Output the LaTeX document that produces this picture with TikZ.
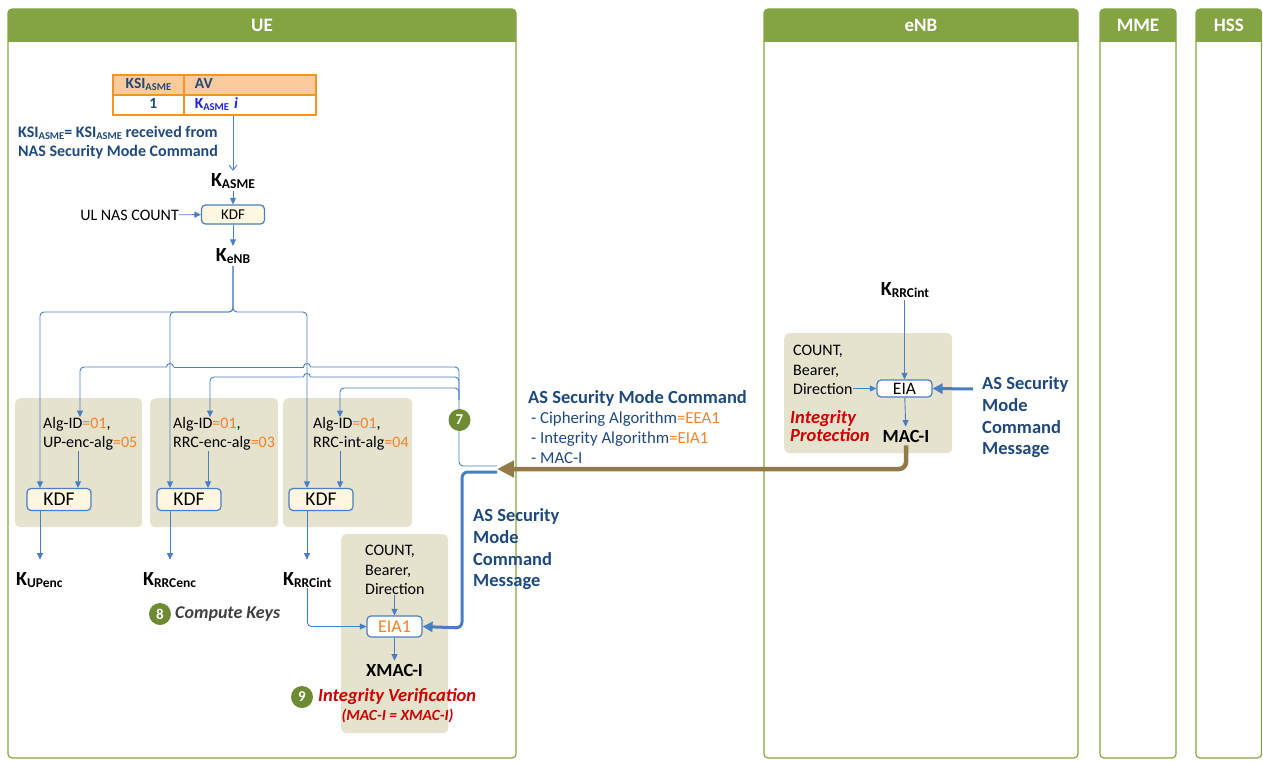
\documentclass[tikz,border=0pt]{standalone}
\usepackage{fontspec}
\setmainfont{Carlito}
\usetikzlibrary{arrows.meta}

\definecolor{lanegreen}{HTML}{84A444}
\definecolor{navy}{HTML}{1F497D}
\definecolor{linkblue}{HTML}{4A7EC2}
\definecolor{accent}{HTML}{F5822A}
\definecolor{panelfill}{HTML}{E5E2CD}
\definecolor{kdffill}{HTML}{FFF8E1}
\definecolor{alarm}{HTML}{CC0000}
\definecolor{badge}{HTML}{6E8A32}
\definecolor{brownline}{HTML}{927A49}
\definecolor{tablehead}{HTML}{FBCB9B}
\definecolor{tableedge}{HTML}{F7941D}
\definecolor{keyblue}{HTML}{1F1FE0}
\definecolor{notegray}{HTML}{404040}

\newcommand\fs[2]{\fontsize{#1}{#2}\selectfont}
\newcommand\keyn[1]{{\fs{20}{22}\bfseries K\raisebox{-2.8pt}{\fs{13.5}{15}#1}}}
\newcommand\ksiname{KSI\raisebox{-2pt}{\fs{10.5}{12}ASME}}
\newcommand\hl[1]{\textcolor{accent}{#1}}
% small bridge where a horizontal wire jumps over a vertical one
\newcommand\hop[2]{\draw[wire] (#1+3.5,#2) .. controls (#1+3.5,#2-4.7) and (#1-3.5,#2-4.7) .. (#1-3.5,#2);}
% swim lane with green title bar
\newcommand\lane[4]{%
  \fill[lanegreen, rounded corners=4pt] (#1,9) rectangle (#2,50);
  \fill[white] (#1,42) rectangle (#2,52);
  \draw[lanegreen, line width=1.2pt, rounded corners=4pt] (#1,9) rectangle (#2,758);
  \node[headtext] (#3) at ({(#1+#2)/2},25.5) {#4};}

\begin{document}
\begin{tikzpicture}[x=1pt,y=-1pt,
  headtext/.style={text=white, font=\fs{19}{20}\bfseries, inner sep=0pt},
  wire/.style={draw=linkblue, line width=0.9pt, rounded corners=4pt},
  flow/.style={wire, -{Triangle[length=6.5pt,width=6pt]}},
  feed/.style={wire, -{Straight Barb[length=5pt,width=8pt]}},
  thickblue/.style={draw=linkblue, line width=3pt, rounded corners=6pt, -{Triangle[length=10pt,width=10pt]}},
  brownarrow/.style={draw=brownline, line width=4.5pt, rounded corners=7pt, -{Triangle[length=17pt,width=16pt]}},
  kdf/.style={draw=linkblue, fill=kdffill, line width=1.2pt, rounded corners=4pt, inner sep=0pt},
  algbox/.style={draw=linkblue, fill=white, line width=1.2pt, rounded corners=4pt, inner sep=0pt},
  panel/.style={fill=panelfill, rounded corners=5pt, inner sep=0pt, anchor=north west},
  tcell/.style={draw=tableedge, line width=1.8pt, inner xsep=0pt, inner ysep=0pt, text height=10pt, text depth=3pt,
                text=navy, font=\fs{15.5}{17}\bfseries, minimum height=20pt, anchor=north west},
  body/.style={inner sep=0pt, text=black, font=\fs{16}{19.5}, align=left},
  navybold/.style={inner sep=0pt, text=navy, font=\fs{16}{19}\bfseries, align=left},
  bignavy/.style={inner sep=0pt, text=navy, font=\fs{18.5}{21.7}\bfseries, align=left},
  redital/.style={inner sep=0pt, text=alarm, font=\fs{18.5}{18}\bfseries\itshape, align=left},
  key/.style={inner sep=2pt, text=black},
  badgec/.style={circle, fill=badge, text=white, font=\fs{15}{16}\bfseries, minimum size=22pt, inner sep=0pt}]
\useasboundingbox (0,0) rectangle (1263,760);

% ---------- lanes ----------
\lane{8}{516}{ueHead}{UE}
\lane{764}{1078}{enbHead}{eNB}
\lane{1100}{1176}{mmeHead}{MME}
\lane{1196}{1261.5}{hssHead}{HSS}

% ---------- grey work areas ----------
\node[panel, minimum width=127, minimum height=129] (panelA) at (15,398) {};
\node[panel, minimum width=128, minimum height=129] (panelB) at (150,398) {};
\node[panel, minimum width=129, minimum height=129] (panelC) at (283,398) {};
\node[panel, minimum width=107, minimum height=199] (panelD) at (341,534) {};
\node[panel, minimum width=168, minimum height=120] (panelE) at (784,333) {};

% ---------- KSI / AV table ----------
\node[tcell, fill=tablehead, minimum width=71, align=center] (ksiHead) at (112,74) {\ksiname};
\node[tcell, fill=tablehead, text width=110pt, inner xsep=11pt, align=left] (avHead) at (183,74) {AV};
\node[tcell, fill=white, minimum width=71, align=center] (ksiVal) at (112,94) {\hspace*{10pt}1};
\node[tcell, fill=white, text width=110pt, inner xsep=11pt, align=left] (avVal) at (183,94)
  {\textcolor{keyblue}{K\raisebox{-2pt}{\fs{10.5}{12}ASME} \textit{i}}};

\node[navybold, anchor=west] (ksiNote) at (18,142.5) {\ksiname= \ksiname{} received from\\NAS Security Mode Command};

% ---------- K_ASME -> KDF -> K_eNB ----------
\node[key] (kasme) at (233,181) {\keyn{ASME}};
\node[kdf, minimum width=63, minimum height=19, font=\fs{15}{16}] (kdf0) at (233,214.5) {KDF};
\node[body, anchor=east] (ulnas) at (179,215) {UL NAS COUNT};
\node[key] (kenb) at (233,256) {\keyn{eNB}};

\draw[feed] (kasme.north |- avVal.south) -- (kasme.north);
\draw[flow] (kasme) -- (kdf0);
\draw[flow] (ulnas) -- (kdf0);
\draw[flow] (kdf0) -- (kenb);

% ---------- key derivation blocks ----------
\node[body, anchor=west] (algA) at (43,434) {Alg-ID\hl{=01},\\UP-enc-alg\hl{=05}};
\node[body, anchor=west] (algB) at (173,434) {Alg-ID\hl{=01},\\RRC-enc-alg\hl{=03}};
\node[body, anchor=west] (algC) at (313,434) {Alg-ID\hl{=01},\\RRC-int-alg\hl{=04}};

\node[kdf, minimum width=64, minimum height=22, font=\fs{19.5}{21}] (kdf1) at (59,499.5) {KDF};
\node[kdf, minimum width=64, minimum height=22, font=\fs{19.5}{21}] (kdf2) at (189,499.5) {KDF};
\node[kdf, minimum width=64, minimum height=22, font=\fs{19.5}{21}] (kdf3) at (321,499.5) {KDF};

\node[key, anchor=west, inner sep=0pt] (kupenc) at (16,580) {\keyn{UPenc}};
\node[key, anchor=west, inner sep=0pt] (krrcenc) at (143,580) {\keyn{RRCenc}};
\node[key, anchor=west, inner sep=0pt] (krrcint) at (283,580) {\keyn{RRCint}};

\coordinate (split) at (233,312);
\draw[flow] (kenb.south) -- (split) -| ([xshift=-19pt]kdf1.north);
\draw[flow] (kenb.south) -- (split) -| ([xshift=-19pt]kdf2.north);
\draw[flow] (kenb.south) -- (split) -| ([xshift=-14pt]kdf3.north);

\draw[flow] ([xshift=19pt]kdf1.north |- algA.south) -- ([xshift=19pt]kdf1.north);
\draw[flow] ([xshift=19pt]kdf2.north |- algB.south) -- ([xshift=19pt]kdf2.north);
\draw[flow] ([xshift=19pt]kdf3.north |- algC.south) -- ([xshift=19pt]kdf3.north);

\draw[flow] ([xshift=-19pt]kdf1.south) -- ++(0,48.5);
\draw[flow] ([xshift=-19pt]kdf2.south) -- ++(0,48.5);
\draw[flow] ([xshift=-14pt]kdf3.south) -- ++(0,48.5);

% ---------- algorithm ids taken from the AS command ----------
\coordinate (trunkFoot) at (497,466);
\draw[wire] (trunkFoot) -- (459,466) -- (459,367) -- (310.5,367);
\hop{307}{367}
\draw[wire] (303.5,367) -- (173.5,367);
\hop{170}{367}
\draw[flow] (166.5,367) -| ([xshift=37pt]algA.north west);
\draw[wire] (459,400) -- (459,377) -- (310.5,377);
\hop{307}{377}
\draw[flow] (303.5,377) -| ([xshift=37pt]algB.north west);
\draw[flow] (459,400) -- (459,388) -| ([xshift=27pt]algC.north west);

\node[badgec] (b7) at (459.5,420) {7};
\node[badgec] (b8) at (160,614) {8};
\node[inner sep=0pt, text=notegray, font=\fs{18}{19}\bfseries\itshape, anchor=west] (computeKeys) at (175,614) {Compute Keys};

% ---------- integrity verification in the UE ----------
\node[body, anchor=west] (cbdD) at (365,570) {COUNT,\\Bearer,\\Direction};
\node[algbox, minimum width=55, minimum height=21, text=accent, font=\fs{18}{19}] (eia1) at (394.5,626.5) {EIA1};
\node[key, font=\fs{18.5}{19}\bfseries, inner sep=3pt] (xmaci) at (394.5,670) {XMAC-I};
\draw[flow] (cbdD.south -| eia1) -- (eia1);
\draw[flow] (krrcint.south) |- (eia1.west);
\draw[flow] (eia1) -- (xmaci);
\node[badgec] (b9) at (302,697) {9};
\node[redital, anchor=west] (verif) at (318,697) {Integrity Verification};
\node[inner sep=0pt, text=alarm, font=\fs{15.5}{16}\bfseries\itshape] (verifEq) at (397.5,716) {(MAC-I = XMAC-I)};

\coordinate (smcEntry) at (497,472);
\draw[thickblue] (smcEntry) -- (462,472) -- (462,628) -- (eia1.east);
\node[bignavy, anchor=west] (smcMsgA) at (473,549.5) {AS Security\\Mode\\Command\\Message};

% ---------- AS Security Mode Command contents ----------
\node[bignavy, anchor=west] (smcTitle) at (528,398) {AS Security Mode Command};
\node[inner sep=0pt, text=navy, font=\fs{16.8}{20}, align=left, anchor=west] (smcList) at (531,438)
  {- Ciphering Algorithm\hl{=EEA1}\\- Integrity Algorithm\hl{=EIA1}\\- MAC-I};

% ---------- integrity protection in the eNB ----------
\node[key] (krrcintB) at (905,290) {\keyn{RRCint}};
\node[algbox, minimum width=55, minimum height=17, font=\fs{17.5}{18}] (eia) at (904.5,388.5) {EIA};
\node[body, anchor=west] (cbdE) at (793,370) {COUNT,\\Bearer,\\Direction};
\node[key, font=\fs{18.5}{19}\bfseries, inner sep=3pt] (maci) at (906,436) {MAC-I};
\node[redital, anchor=west] (protect) at (790,426) {Integrity\\Protection};
\node[bignavy, anchor=west] (smcMsgB) at (982,417.5) {AS Security\\Mode\\Command\\Message};
\coordinate (smcFromB) at (973,389);

\draw[flow] (eia |- krrcintB.south) -- (eia.north);
\draw[flow] (cbdE.east |- eia.west) -- (eia.west);
\draw[flow] (eia) -- (maci);
\draw[thickblue] (smcFromB) -- (eia.east);

\coordinate (smcTip) at (497,469);
\draw[brownarrow] (maci.south) |- (smcTip);
\end{tikzpicture}
\end{document}
